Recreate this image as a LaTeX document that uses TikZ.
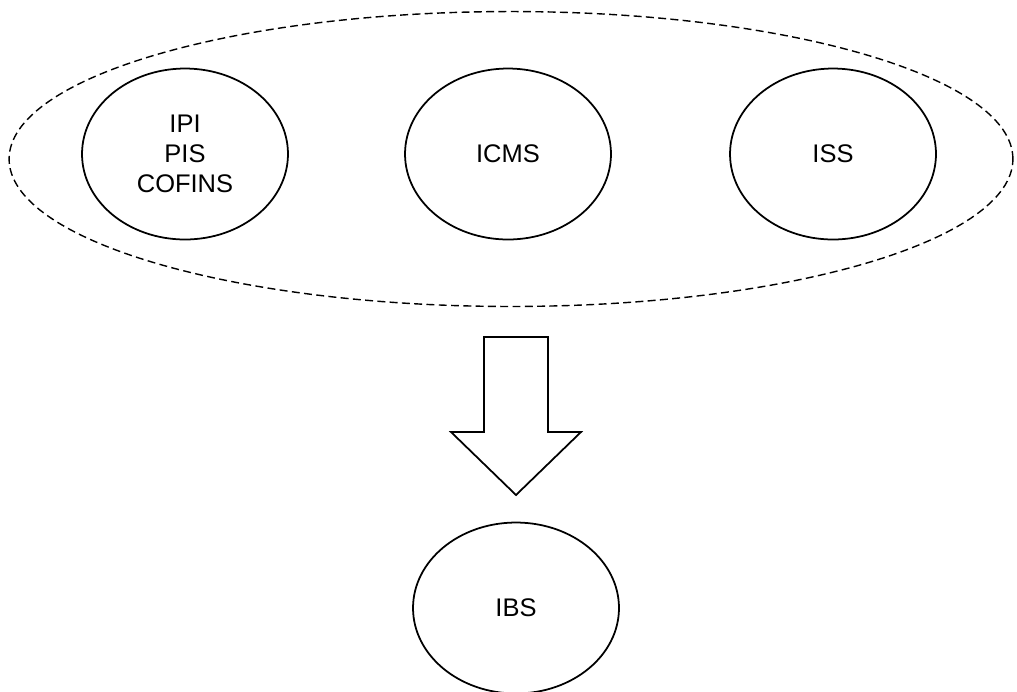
\documentclass[tikz,border=0pt]{standalone}
\usepackage{fontspec}
\setmainfont{Liberation Sans}
\usetikzlibrary{shapes.geometric}
\tikzset{tax/.style={draw,ellipse,line width=1pt,minimum width=4.12cm,minimum height=3.42cm,inner sep=0pt,align=center,font=\fontsize{14.5}{17}\selectfont}}
\tikzset{grp/.style={draw,ellipse,line width=.8pt,dash pattern={on 4.5pt off 2.5pt},minimum width=20.08cm,minimum height=5.9cm,inner sep=0pt}}
\begin{document}
\begin{tikzpicture}[x=.02cm,y=-.02cm]
\useasboundingbox(0,0)rectangle(1017,691);
\node[grp](all)at(511,159){};
\node[tax](ipi)at(185,154){IPI\\PIS\\COFINS};\node[tax](icms)at(508,154){ICMS};\node[tax](iss)at(833,154){ISS};
\node[tax](ibs)at(516,608){IBS};
% block arrow
\draw[line width=1pt,line join=miter](484,337)--(548,337)--(548,432)--(581,432)--(516,495)--(451,432)--(484,432)--cycle;
\end{tikzpicture}
\end{document}
